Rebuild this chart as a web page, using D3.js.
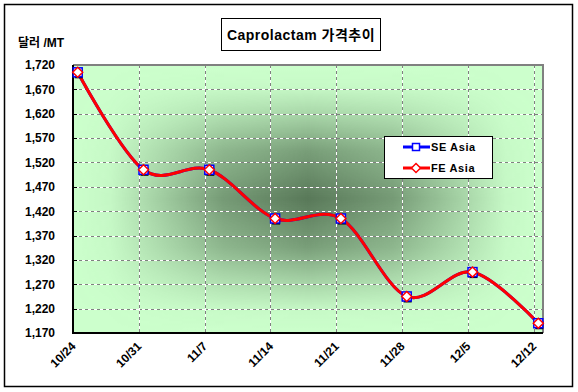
<!DOCTYPE html>
<html><head><meta charset="utf-8">
<script src="https://cdn.jsdelivr.net/npm/d3@7"></script>
<style>body{margin:0;background:#fff}</style>
</head><body>
<svg id="c" width="578" height="392"></svg>
<script>
const categories = ["10/24","10/31","11/7","11/14","11/21","11/28","12/5","12/12"];
const dayOffsets = [0,7,14,21,28,35,42,49];
const seAsia = [1705,1505,1505,1405,1405,1245,1295,1190];
const feAsia = [1705,1505,1505,1405,1405,1245,1295,1190];
const yTicks = [1170,1220,1270,1320,1370,1420,1470,1520,1570,1620,1670,1720];
const seriesNames = ["SE Asia","FE Asia"];
const titleText = "Caprolactam 가격추이";
const yTitle = "달러 /MT";

const svg = d3.select("#c");
const L = 73, R = 543, T = 65, B = 333;
const x = d3.scaleLinear().domain([0, 50]).range([L, R]);
const y = d3.scaleLinear().domain([1170, 1720]).range([B, T]);
const fontLatin = "'Liberation Sans', Arial, 'Noto Sans CJK KR', sans-serif";

// outer border
svg.append("rect").attr("x",4.5).attr("y",4.5).attr("width",568).attr("height",382)
  .attr("fill","#fff").attr("stroke","#000").attr("stroke-width",1.5);

const defs = svg.append("defs");
function grad(id, horiz, stops){
  const g = defs.append("linearGradient").attr("id",id)
    .attr("x1",0).attr("y1",0).attr("x2",horiz?1:0).attr("y2",horiz?0:1);
  stops.forEach(s=>g.append("stop").attr("offset",s[0]).attr("stop-color","#fff").attr("stop-opacity",s[1]));
}
grad("gh", true, [[0,0],[0.08,0.06],[0.18,0.35],[0.32,0.75],[0.5,1],[0.68,0.75],[0.82,0.35],[0.92,0.06],[1,0]]);
grad("gv", false,[[0,0],[0.08,0.04],[0.18,0.3],[0.32,0.72],[0.5,1],[0.68,0.72],[0.82,0.3],[0.92,0.04],[1,0]]);
defs.append("mask").attr("id","mh").attr("maskUnits","userSpaceOnUse")
  .append("rect").attr("x",L).attr("y",T).attr("width",R-L).attr("height",B-T).attr("fill","url(#gh)");
defs.append("mask").attr("id","mv").attr("maskUnits","userSpaceOnUse")
  .append("rect").attr("x",L).attr("y",T).attr("width",R-L).attr("height",B-T).attr("fill","url(#gv)");

// plot background
svg.append("rect").attr("x",L).attr("y",T).attr("width",R-L).attr("height",B-T).attr("fill","#ccffcc");
svg.append("g").attr("mask","url(#mh)")
  .append("rect").attr("x",L).attr("y",T).attr("width",R-L).attr("height",B-T)
  .attr("fill","#587858").attr("mask","url(#mv)");

// gridlines
const grid = svg.append("g");
yTicks.slice(1).forEach(v=>{
  const yy = Math.round(y(v))+0.5;
  grid.append("line").attr("x1",L).attr("x2",R).attr("y1",yy).attr("y2",yy).attr("stroke","#fff").attr("stroke-width",1);
  grid.append("line").attr("x1",L).attr("x2",R).attr("y1",yy).attr("y2",yy).attr("stroke","#808080").attr("stroke-width",1).attr("stroke-dasharray","3,3");
});
dayOffsets.slice(1).forEach(d=>{
  const xx = Math.round(x(d))+0.5;
  grid.append("line").attr("x1",xx).attr("x2",xx).attr("y1",T).attr("y2",B).attr("stroke","#fff").attr("stroke-width",1);
  grid.append("line").attr("x1",xx).attr("x2",xx).attr("y1",T).attr("y2",B).attr("stroke","#808080").attr("stroke-width",1).attr("stroke-dasharray","3,3");
});

// plot border (top/right grey), axes black
svg.append("path").attr("d",`M${L},${T}H${R}V${B}`).attr("fill","none").attr("stroke","#808080").attr("stroke-width",2);
svg.append("path").attr("d",`M${L},${T}V${B}H${R}`).attr("fill","none").attr("stroke","#000").attr("stroke-width",2);

// y axis labels
const yAxis = d3.axisLeft(y).tickValues(yTicks).tickSize(0).tickPadding(0).tickFormat(d3.format(","));
const ya = svg.append("g").attr("transform",`translate(55,0)`).call(yAxis);
ya.select(".domain").remove();
ya.selectAll("text").attr("font-family",fontLatin).attr("font-weight","bold").attr("font-size",12).attr("fill","#000");
yTicks.slice(1,-1).forEach(v=>{
  svg.append("line").attr("x1",L).attr("x2",L+4).attr("y1",Math.round(y(v))+0.5).attr("y2",Math.round(y(v))+0.5).attr("stroke","#000");
});

// x axis labels
const xAxis = d3.axisBottom(x).tickValues(dayOffsets).tickSize(0).tickFormat((d,i)=>categories[i]);
const xa = svg.append("g").attr("transform",`translate(0,${B})`).call(xAxis);
xa.select(".domain").remove();
xa.selectAll("text")
  .attr("font-family",fontLatin).attr("font-weight","bold").attr("font-size",12).attr("fill","#000")
  .attr("text-anchor","end").attr("dy",0).attr("y",0)
  .attr("transform","translate(3,14) rotate(-45)");

// lines
const line = d3.line().x((d,i)=>x(dayOffsets[i]+0.5)).y(d=>y(d)).curve(d3.curveCardinal.tension(0));
svg.append("path").datum(seAsia).attr("d",line).attr("fill","none").attr("stroke","#0000ff").attr("stroke-width",3);
svg.append("path").datum(feAsia).attr("d",line).attr("fill","none").attr("stroke","#ff0000").attr("stroke-width",3);

// markers
const mk = svg.append("g");
seAsia.forEach((v,i)=>{
  const cx = x(dayOffsets[i]+0.5), cy = y(v);
  mk.append("rect").attr("x",cx-3).attr("y",cy-2).attr("width",8).attr("height",8).attr("fill","#000");
  mk.append("rect").attr("x",cx-4.5).attr("y",cy-4.5).attr("width",9).attr("height",9).attr("fill","#fff").attr("stroke","#0000ff").attr("stroke-width",1.5);
});
feAsia.forEach((v,i)=>{
  const cx = x(dayOffsets[i]+0.5), cy = y(v);
  mk.append("path").attr("d",`M${cx},${cy-5}L${cx+5},${cy}L${cx},${cy+5}L${cx-5},${cy}Z`)
    .attr("fill","#fff").attr("stroke","#ff0000").attr("stroke-width",1.5);
});

// legend
const lg = svg.append("g");
lg.append("rect").attr("x",384.5).attr("y",136.5).attr("width",108).attr("height",42).attr("fill","#fff").attr("stroke","#000").attr("stroke-width",1);
const lys = [147, 168];
const lcolors = ["#0000ff","#ff0000"];
seriesNames.forEach((nm,i)=>{
  const ly = lys[i];
  lg.append("line").attr("x1",403).attr("x2",430).attr("y1",ly).attr("y2",ly).attr("stroke",lcolors[i]).attr("stroke-width",3);
  if(i===0){
    lg.append("rect").attr("x",412.5).attr("y",ly-3.5).attr("width",7).attr("height",7).attr("fill","#fff").attr("stroke","#0000ff").attr("stroke-width",1.5);
  } else {
    lg.append("path").attr("d",`M416,${ly-4.5}L420.5,${ly}L416,${ly+4.5}L411.5,${ly}Z`).attr("fill","#fff").attr("stroke","#ff0000").attr("stroke-width",1.5);
  }
  lg.append("text").attr("x",431).attr("y",ly+4).text(nm)
    .attr("font-family",fontLatin).attr("font-weight","bold").attr("font-size",11).attr("letter-spacing",0.6);
});

// title
svg.append("rect").attr("x",221.5).attr("y",18.5).attr("width",159).attr("height",32).attr("fill","#fff").attr("stroke","#000").attr("stroke-width",1);
svg.append("text").attr("x",301).attr("y",40).attr("text-anchor","middle").text(titleText)
  .attr("font-family",fontLatin).attr("font-weight","bold").attr("font-size",14).attr("letter-spacing",0.5);

// y title
svg.append("text").attr("x",18).attr("y",47).text(yTitle)
  .attr("font-family",fontLatin).attr("font-weight","bold").attr("font-size",12);
</script>
</body></html>
